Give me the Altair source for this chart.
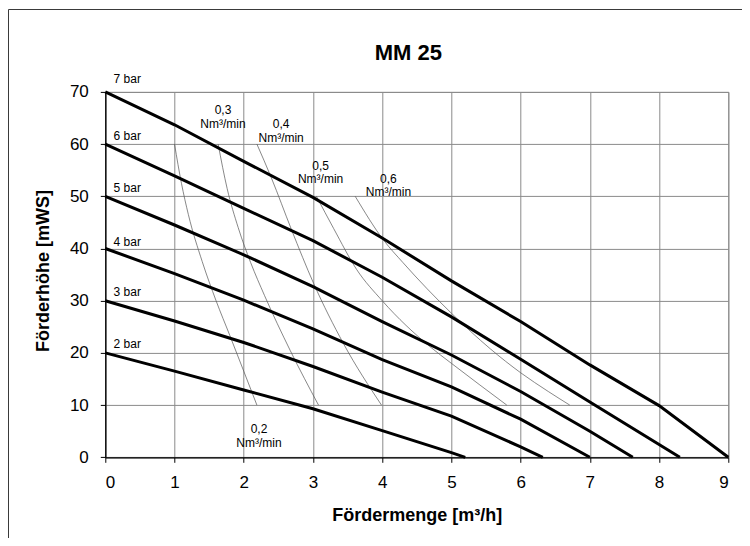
import altair as alt
import pandas as pd

# ---- data ----
bar_names = ["2 bar", "3 bar", "4 bar", "5 bar", "6 bar", "7 bar"]
bar_x = [
    [0, 1, 2, 3, 4, 5, 5.2],
    [0, 1, 2, 3, 4, 5, 6, 6.32],
    [0, 1, 2, 3, 4, 5, 6, 7],
    [0, 1, 2, 3, 4, 5, 6, 7, 7.62],
    [0, 1, 2, 3, 4, 5, 6, 7, 8.3],
    [0, 1, 2, 3, 4, 5, 6, 7, 8, 9],
]
bar_y = [
    [20, 16.5, 12.9, 9.3, 5.1, 0.9, 0],
    [30, 26.1, 22.0, 17.4, 12.5, 7.9, 2.0, 0],
    [40, 35.2, 30.1, 24.6, 18.7, 13.5, 7.3, 0],
    [50, 44.5, 38.8, 32.7, 26.0, 19.6, 12.6, 5.0, 0],
    [60, 53.9, 47.7, 41.5, 34.5, 26.9, 18.8, 10.6, 0],
    [70, 63.7, 56.7, 49.8, 42.0, 33.8, 26.0, 17.7, 9.9, 0],
]
bar_label_x = [0.12, 0.12, 0.12, 0.12, 0.12, 0.12]
bar_label_y = [21.7, 31.7, 41.3, 51.5, 61.6, 72.4]

air_names = ["0,2", "0,3", "0,4", "0,5", "0,6"]
air_x = [
    [1.0, 1.1, 1.2, 1.4, 1.6, 1.8, 2.0, 2.19],
    [1.63, 1.76, 1.92, 2.1, 2.3, 2.67, 3.08],
    [2.19, 2.40, 2.69, 3.01, 3.44, 3.99],
    [3.05, 3.3, 3.63, 4.0, 4.69, 5.0, 5.8],
    [3.61, 4.02, 4.3, 5.0, 5.56, 6.0, 6.4, 6.71],
]
air_y = [
    [60, 52.5, 46.5, 37.5, 30, 23.3, 16.5, 10],
    [60, 51.5, 44, 37.3, 31, 20.5, 10],
    [60, 53.5, 43.6, 33.3, 21.8, 10],
    [50, 43.8, 36, 30, 21.2, 18, 10],
    [50, 41.6, 37.3, 27.6, 20.8, 16.2, 12.6, 10],
]
air_label_x = [2.22, 1.70, 2.54, 3.11, 4.09]
air_label_y = [5.4, 66.5, 63.85, 55.9, 53.4]
air_unit = "Nm³/min"

x_ticks = list(range(0, 10))
y_ticks = list(range(0, 80, 10))

FONT = "Liberation Sans"

# ---- tables ----
def long_table(names, xs, ys):
    rows = []
    for n, xx, yy in zip(names, xs, ys):
        for i, (a, b) in enumerate(zip(xx, yy)):
            rows.append({"series": n, "i": i, "x": a, "y": b})
    return pd.DataFrame(rows)

bars = long_table(bar_names, bar_x, bar_y)
air = long_table(air_names, air_x, air_y)
bar_lab = pd.DataFrame({"label": bar_names, "x": bar_label_x, "y": bar_label_y})
air_lab = pd.DataFrame({"label": [n + "\n" + air_unit for n in air_names],
                        "x": air_label_x, "y": air_label_y})

xs = alt.Scale(domain=[0, 9], nice=False, zero=False)
ys = alt.Scale(domain=[0, 70], nice=False)

x_axis = alt.Axis(values=x_ticks, title="Fördermenge [m³/h]", format="d",
                  titleX=311.5, titleY=63.4, titleBaseline="alphabetic",
                  titleAnchor="middle", titleAlign="center")
y_axis = alt.Axis(values=y_ticks, title="Förderhöhe [mWS]", format="d",
                  titleX=-62, titleY=178.6, titleBaseline="middle",
                  titleAngle=270, titleAlign="center")

frame = alt.Chart(pd.DataFrame({"a": [0]})).mark_rect(
    fill="white", fillOpacity=0, stroke="#3a3a3a", strokeWidth=1
).encode(
    x=alt.value(-96.8), x2=alt.value(760),
    y=alt.value(-82.4), y2=alt.value(700),
)

thin = alt.Chart(air).mark_line(color="#555555", strokeWidth=0.7,
                                interpolate="monotone").encode(
    x=alt.X("x:Q", scale=xs, axis=x_axis),
    y=alt.Y("y:Q", scale=ys, axis=y_axis),
    detail="series:N",
    order="i:Q",
)

thick = alt.Chart(bars).mark_line(color="black", strokeWidth=3).encode(
    x=alt.X("x:Q", scale=xs),
    y=alt.Y("y:Q", scale=ys),
    detail="series:N",
    order="i:Q",
)

blab = alt.Chart(bar_lab).mark_text(
    align="left", baseline="middle", fontSize=12, font=FONT, color="black"
).encode(x=alt.X("x:Q", scale=xs), y=alt.Y("y:Q", scale=ys), text="label:N")

alab = alt.Chart(air_lab).mark_text(
    align="center", baseline="middle", fontSize=12, font=FONT, color="black",
    lineBreak="\n", lineHeight=13.5
).encode(x=alt.X("x:Q", scale=xs), y=alt.Y("y:Q", scale=ys), text="label:N")

title = alt.Chart(pd.DataFrame({"t": ["MM 25"]})).mark_text(
    align="center", baseline="alphabetic", fontSize=22, fontWeight="bold",
    font=FONT, color="black"
).encode(x=alt.value(303), y=alt.value(-31.9), text="t:N")

chart = alt.layer(frame, thin, thick, blab, alab, title).properties(
    width=623, height=365.4,
    autosize=alt.AutoSizeParams(type="none"),
    padding={"left": 97.3, "top": 83.9, "right": 13.7, "bottom": 80.7},
    background="white",
).configure_view(
    stroke="#8a8a8a", strokeWidth=1
).configure_axis(
    grid=True, gridColor="#8a8a8a", gridWidth=1, gridOpacity=1,
    domainColor="black", domainWidth=1.3,
    tickColor="black", tickSize=5, tickWidth=1,
    labelFont=FONT, labelFontSize=17, labelColor="black", labelPadding=12,
    titleFont=FONT, titleFontSize=18, titleFontWeight="bold", titleColor="black",
)

chart.save("out.html", embed_options={"renderer": "svg", "actions": False})
